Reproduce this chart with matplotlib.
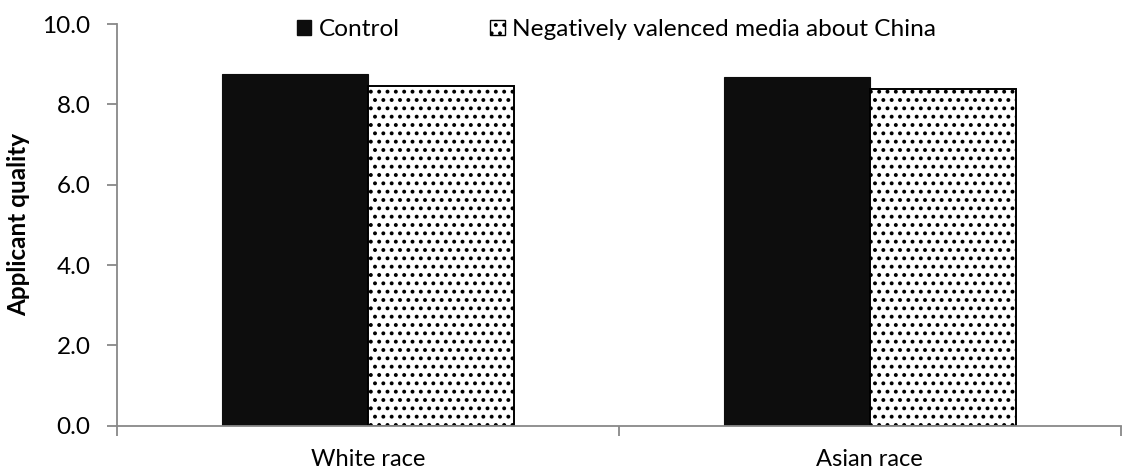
import matplotlib
matplotlib.use("Agg")
import matplotlib.pyplot as plt
import numpy as np
from matplotlib.patches import Patch

plt.rcParams['font.family'] = ['Lato', 'DejaVu Sans']
plt.rcParams['hatch.linewidth'] = 1.6

categories = ["White race", "Asian race"]
series_names = ["Control", "Negatively valenced media about China"]
control_vals = [8.75, 8.69]
negative_vals = [8.46, 8.39]
y_ticks = [0.0, 2.0, 4.0, 6.0, 8.0, 10.0]

fig = plt.figure(figsize=(11.23, 4.72), dpi=100)
ax = fig.add_axes([0.104, 0.098, 0.894, 0.851])

x = np.arange(len(categories))
w = 0.291
ax.bar(x - w / 2, control_vals, width=w, color="#0d0d0d", edgecolor="#0d0d0d", linewidth=0.8, zorder=2)
ax.bar(x + w / 2, negative_vals, width=w, color="white", edgecolor="black", hatch="..",
       linewidth=1.4, zorder=2)

ax.set_xlim(-0.5, 1.5)
ax.set_ylim(0, 10)
ax.set_yticks(y_ticks)
ax.set_yticklabels([f"{v:.1f}" for v in y_ticks], fontsize=17.5)
ax.set_xticks([-0.5, 0.5, 1.5])
ax.set_xticklabels([])
ax.set_xticks(x, minor=True)
ax.set_xticklabels(categories, minor=True, fontsize=17)
ax.tick_params(axis="x", which="minor", length=0, pad=17)
ax.tick_params(axis="x", which="major", length=7, color="#888888", width=1.3)
ax.tick_params(axis="y", length=7, color="#888888", width=1.3, pad=12)

for side in ("top", "right"):
    ax.spines[side].set_visible(False)
for side in ("left", "bottom"):
    ax.spines[side].set_color("#888888")
    ax.spines[side].set_linewidth(1.3)

ax.set_ylabel("Applicant quality", fontsize=17.5, fontweight="bold")
ax.yaxis.set_label_coords(-0.086, 0.5)

handles = [Patch(facecolor="#0d0d0d", edgecolor="#0d0d0d"),
           Patch(facecolor="white", edgecolor="black", hatch="..")]
fig.legend(handles, series_names, loc="center", bbox_to_anchor=(0.549, 0.937), ncol=2,
           frameon=False, fontsize=17.6, handlelength=0.6, handleheight=0.6,
           handletextpad=0.3, columnspacing=3.7)

fig.savefig("out.png", dpi=100)
